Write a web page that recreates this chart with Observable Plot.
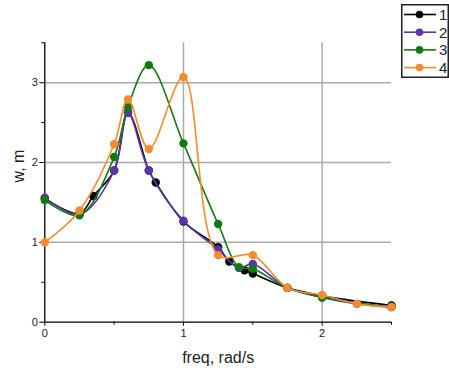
<!DOCTYPE html>
<html>
<head>
<meta charset="utf-8">
<script src="https://cdn.jsdelivr.net/npm/d3@7"></script>
<script src="https://cdn.jsdelivr.net/npm/@observablehq/plot@0.6"></script>
<style>
  html, body { margin: 0; padding: 0; background: #fff; }
  #wrap { position: relative; width: 449px; height: 372px; font-family: "Liberation Sans", Arial, sans-serif; }
  #legend { position: absolute; left: 401px; top: 4px; }
</style>
</head>
<body>
<div id="wrap"></div>
<script>
// Series names and colours
const seriesNames = ["1", "2", "3", "4"];
const seriesColors = ["#000000", "#5b35a8", "#127a12", "#f58a2e"];

// Series 1 (black)
const freq1 = [0, 0.25, 0.35, 0.5, 0.6, 0.75, 0.8, 1.0, 1.25, 1.33, 1.44, 1.5, 1.75, 2.0, 2.5];
const w1    = [1.55, 1.36, 1.58, 1.90, 2.63, 1.90, 1.75, 1.26, 0.94, 0.76, 0.65, 0.61, 0.43, 0.33, 0.21];
// Series 2 (purple)
const freq2 = [0, 0.25, 0.5, 0.6, 0.75, 1.0, 1.25, 1.4, 1.5, 1.75, 2.0, 2.25, 2.5];
const w2    = [1.56, 1.35, 1.90, 2.62, 1.90, 1.27, 0.91, 0.68, 0.73, 0.43, 0.31, 0.23, 0.19];
// Series 3 (green)
const freq3 = [0, 0.25, 0.5, 0.6, 0.75, 1.0, 1.25, 1.4, 1.5, 1.75, 2.0, 2.5];
const w3    = [1.53, 1.34, 2.07, 2.70, 3.22, 2.24, 1.23, 0.69, 0.67, 0.43, 0.31, 0.19];
// Series 4 (orange)
const freq4 = [0, 0.25, 0.5, 0.6, 0.75, 1.0, 1.25, 1.5, 1.75, 2.0, 2.25, 2.5];
const w4    = [1.00, 1.40, 2.23, 2.79, 2.17, 3.07, 0.84, 0.84, 0.43, 0.34, 0.23, 0.19];

// Axis ticks
const xMajor = [0, 1, 2];
const xMinor = [0.5, 1.5, 2.5];
const yMajor = [0, 1, 2, 3];
const yMinor = [0.5, 1.5, 2.5, 3.5];
const xGrid = [1, 2];
const yGrid = [1, 2, 3];

const allFreq = [freq1, freq2, freq3, freq4];
const allW = [w1, w2, w3, w4];
const data = [];
allFreq.forEach((fs, i) => fs.forEach((f, j) => data.push({series: seriesNames[i], freq: f, w: allW[i][j]})));

const lineMarks = seriesNames.flatMap((s, i) => {
  const d = data.filter(r => r.series === s);
  return [
    Plot.line(d, {x: "freq", y: "w", stroke: seriesColors[i], strokeWidth: 1.6, curve: "catmull-rom"}),
    Plot.dot(d, {x: "freq", y: "w", fill: seriesColors[i], r: 4.2, stroke: "none"})
  ];
});

const fmt = d3.format("d");

const chart = Plot.plot({
  width: 449,
  height: 372,
  marginLeft: 44.3,
  marginRight: 58,
  marginTop: 42.3,
  marginBottom: 50.3,
  style: {fontFamily: "Liberation Sans, Arial, sans-serif", fontSize: "11px", background: "white"},
  x: {domain: [0, 2.5]},
  y: {domain: [0, 3.5]},
  marks: [
    Plot.gridX(xGrid, {stroke: "#aaaaaa", strokeOpacity: 1, strokeWidth: 1.5}),
    Plot.gridY(yGrid, {stroke: "#aaaaaa", strokeOpacity: 1, strokeWidth: 1.5}),
    Plot.axisX(xMajor, {tickSize: 4, tickPadding: 3, tickFormat: fmt, label: null, fontSize: 11, stroke: "#000", fill: "#222"}),
    Plot.axisX(xMinor, {tickSize: 3, tickFormat: () => "", label: null, stroke: "#000"}),
    Plot.axisY(yMajor, {tickSize: 5, tickPadding: 2, tickFormat: fmt, label: null, fontSize: 11, stroke: "#000", fill: "#222"}),
    Plot.axisY(yMinor, {tickSize: 3, tickFormat: () => "", label: null, stroke: "#000"}),
    Plot.ruleY([0], {stroke: "#000", strokeWidth: 1.3}),
    Plot.ruleX([0], {stroke: "#000", strokeWidth: 1.3}),
    Plot.text(["freq, rad/s"], {frameAnchor: "bottom", dy: 41, fontSize: 16, fill: "#222"}),
    Plot.text(["w, m"], {frameAnchor: "left", dx: -26, rotate: -90, fontSize: 16, fill: "#222"}),
    ...lineMarks
  ]
});

document.getElementById("wrap").appendChild(chart);

// Legend
const lg = d3.select("#wrap").append("svg")
  .attr("id", "legend")
  .attr("width", 48).attr("height", 74);
lg.append("rect").attr("x", 0.75).attr("y", 0.75).attr("width", 46.5).attr("height", 72.5)
  .attr("fill", "white").attr("stroke", "#222").attr("stroke-width", 1.5);
seriesNames.forEach((s, i) => {
  const y = 10.5 + i * 17.7;
  lg.append("line").attr("x1", 3).attr("x2", 35).attr("y1", y).attr("y2", y)
    .attr("stroke", seriesColors[i]).attr("stroke-width", 1.6);
  lg.append("circle").attr("cx", 18.5).attr("cy", y).attr("r", 3.8).attr("fill", seriesColors[i]);
  lg.append("text").attr("x", 38).attr("y", y + 5.5).text(s)
    .attr("font-size", 15).attr("font-family", "Liberation Sans, Arial, sans-serif").attr("fill", "#222");
});
</script>
</body>
</html>
